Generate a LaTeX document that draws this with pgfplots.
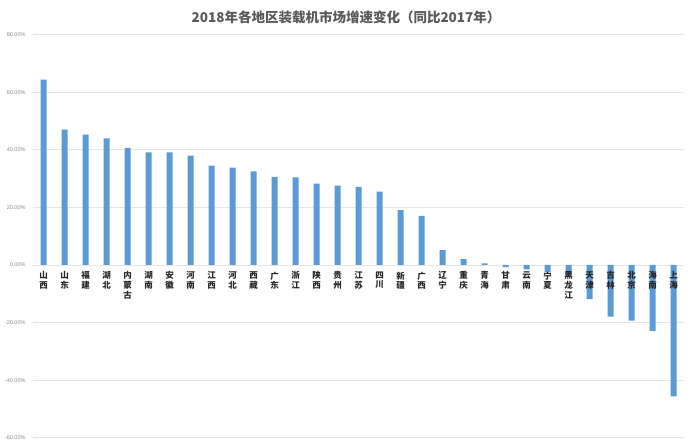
\documentclass[border=0pt]{standalone}
\usepackage{pgfplots}
\pgfplotsset{compat=1.18}
\usepackage{fontspec}
\setmainfont{Liberation Sans}
\newfontfamily\cjk{Noto Sans CJK SC}
\definecolor{barblue}{HTML}{5B9BD5}
\definecolor{titlegray}{HTML}{595959}
\definecolor{tickgray}{HTML}{8C8C8C}
\definecolor{gridgray}{HTML}{E6E6E6}
\begin{document}
\begin{tikzpicture}[x=1pt,y=1pt]
\path (0,0) rectangle (700,445);
\begin{axis}[
  at={(33pt,7.3pt)}, anchor=south west,
  scale only axis,
  width=651pt, height=403pt,
  xmin=-0.5, xmax=30.5,
  ymin=-60, ymax=80,
  ytick={-60,-40,-20,0,20,40,60,80},
  xtick=\empty,
  axis x line=middle,
  axis y line=left,
  hide obscured x ticks=false,
  hide obscured y ticks=false,
  every inner x axis line/.append style={-, draw=gridgray, line width=0.8pt},
  every outer y axis line/.append style={-, draw=none},
  y axis line style={draw=none},
  major tick length=0pt,
  ymajorgrids,
  grid style={draw=gridgray, line width=0.8pt},
  /pgf/number format/assume math mode=true,
  yticklabel={\pgfmathprintnumber[fixed,fixed zerofill,precision=2]{\tick}\%},
  yticklabel style={font=\fontsize{5.5}{6}\selectfont, text=tickgray, xshift=-4pt},
  clip=false,
]
\addplot[ybar, bar width=6pt, fill=barblue, draw=none] coordinates {
(0,64.4) (1,47.0) (2,45.3) (3,44.0) (4,40.7) (5,39.1) (6,39.1) (7,38.0)
(8,34.5) (9,33.8) (10,32.5) (11,30.6) (12,30.4) (13,28.3) (14,27.6) (15,27.1)
(16,25.5) (17,19.1) (18,17.1) (19,5.2) (20,2.0) (21,0.6) (22,-0.7) (23,-1.5)
(24,-2.4) (25,-3.5) (26,-11.9) (27,-17.9) (28,-19.3) (29,-22.9) (30,-45.6)
};
\addplot[only marks, mark=none, draw=none, point meta=explicit symbolic,
  nodes near coords,
  nodes near coords style={anchor=north, align=center, font=\cjk\bfseries\fontsize{8.5}{9.7}\selectfont, text=black!85, yshift=-5.5pt, inner sep=1pt}]
coordinates {
(0,0) [山\\西] (1,0) [山\\东] (2,0) [福\\建] (3,0) [湖\\北] (4,0) [内\\蒙\\古]
(5,0) [湖\\南] (6,0) [安\\徽] (7,0) [河\\南] (8,0) [江\\西] (9,0) [河\\北]
(10,0) [西\\藏] (11,0) [广\\东] (12,0) [浙\\江] (13,0) [陕\\西] (14,0) [贵\\州]
(15,0) [江\\苏] (16,0) [四\\川] (17,0) [新\\疆] (18,0) [广\\西] (19,0) [辽\\宁]
(20,0) [重\\庆] (21,0) [青\\海] (22,0) [甘\\肃] (23,0) [云\\南] (24,0) [宁\\夏]
(25,0) [黑\\龙\\江] (26,0) [天\\津] (27,0) [吉\\林] (28,0) [北\\京] (29,0) [海\\南]
(30,0) [上\\海]
};
\end{axis}
\node[font=\cjk\bfseries\fontsize{13.5}{15}\selectfont, text=titlegray] at (346,428) {2018年各地区装载机市场增速变化（同比2017年）};
\end{tikzpicture}
\end{document}
